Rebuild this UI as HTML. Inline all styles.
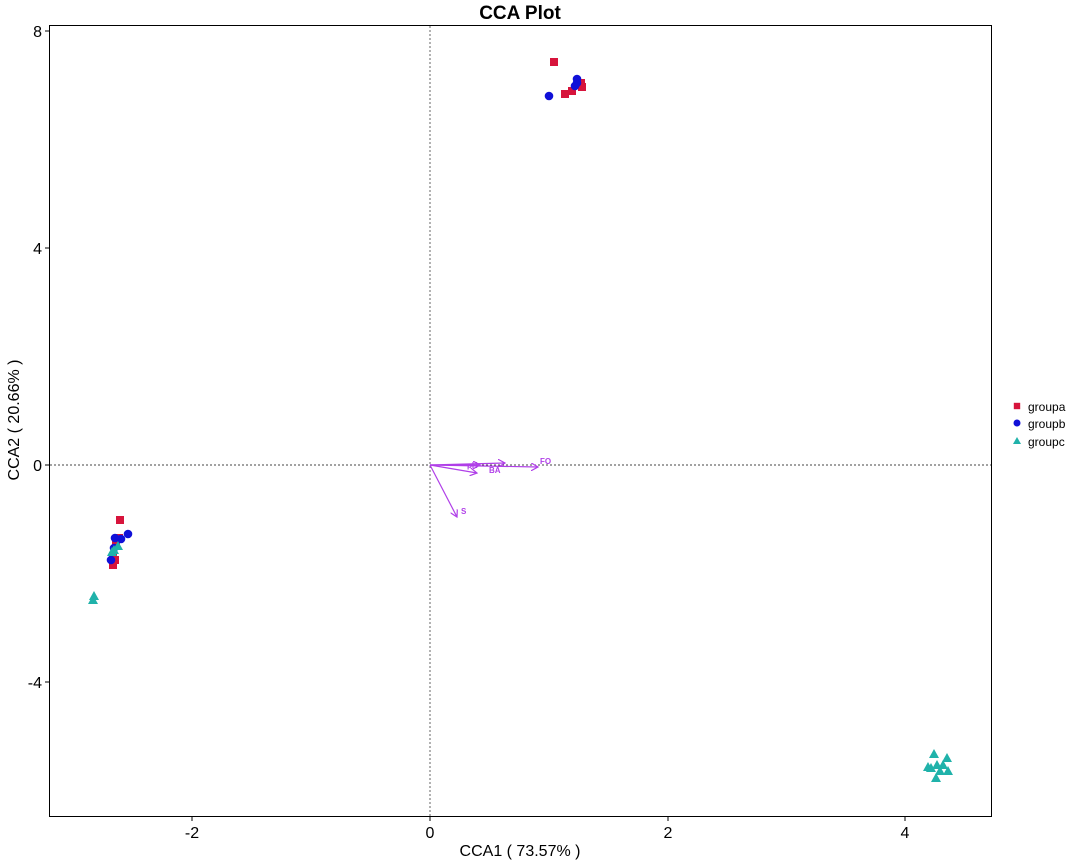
<!DOCTYPE html>
<html><head><style>body{margin:0;background:#fff}svg{display:block}text{font-family:"Liberation Sans",sans-serif}</style></head><body>
<svg width="1080" height="861" xmlns="http://www.w3.org/2000/svg">
<defs>
<marker id="ar" markerWidth="8" markerHeight="8" refX="7" refY="4" orient="auto" markerUnits="userSpaceOnUse"><path d="M0,0 L7,4 L0,8" fill="none" stroke="#B03FE8" stroke-width="1.2"/></marker>
<g id="sq"><rect x="-4" y="-4" width="8" height="8" fill="#D7143C"/></g>
<g id="ci"><circle r="4.3" fill="#1010D8"/></g>
<g id="tr"><path d="M0,-5 L5,4 L-5,4Z" fill="#20B2AA"/></g>
</defs>
<text x="520" y="19" font-size="19" font-weight="bold" text-anchor="middle">CCA Plot</text>
<rect x="49.5" y="25.5" width="942" height="791" fill="none" stroke="#000" stroke-width="1"/>
<line x1="430" y1="26" x2="430" y2="816" stroke="#666" stroke-dasharray="2,2"/>
<line x1="50" y1="465" x2="991" y2="465" stroke="#444" stroke-dasharray="2,2"/>
<g stroke="#000"><line x1="45" y1="31" x2="49" y2="31"/><line x1="45" y1="248" x2="49" y2="248"/><line x1="45" y1="465" x2="49" y2="465"/><line x1="45" y1="682" x2="49" y2="682"/>
<line x1="192" y1="817" x2="192" y2="821"/><line x1="430" y1="817" x2="430" y2="821"/><line x1="668" y1="817" x2="668" y2="821"/><line x1="905" y1="817" x2="905" y2="821"/></g>
<g font-size="16" text-anchor="end"><text x="42" y="37">8</text><text x="42" y="254">4</text><text x="42" y="471">0</text><text x="42" y="688">-4</text></g>
<g font-size="16" text-anchor="middle"><text x="192" y="838">-2</text><text x="430" y="838">0</text><text x="668" y="838">2</text><text x="905" y="838">4</text></g>
<text x="520" y="856" font-size="16" text-anchor="middle">CCA1 ( 73.57% )</text>
<text transform="translate(19,420) rotate(-90)" font-size="16" text-anchor="middle">CCA2 ( 20.66% )</text>
<g stroke="#B03FE8" stroke-width="1.2" marker-end="url(#ar)">
<line x1="430" y1="465" x2="505" y2="463"/><line x1="430" y1="465" x2="477" y2="473"/><line x1="430" y1="465" x2="538" y2="467"/><line x1="430" y1="465" x2="457" y2="517"/><line x1="430" y1="465" x2="480" y2="465"/></g>
<g fill="#B03FE8" font-size="8" font-weight="bold"><text x="467" y="468">pH</text><text x="489" y="473">BA</text><text x="540" y="464">FO</text><text x="461" y="514">S</text></g>
<use href="#sq" x="120" y="520"/><use href="#sq" x="119" y="538"/><use href="#sq" x="113" y="565"/><use href="#sq" x="115" y="560"/><use href="#sq" x="113" y="556"/><use href="#sq" x="116" y="545"/>
<use href="#ci" x="128" y="534"/><use href="#ci" x="115" y="538"/><use href="#ci" x="121" y="539"/><use href="#ci" x="111" y="560"/><use href="#ci" x="114" y="548"/>
<use href="#tr" x="118" y="546"/><use href="#tr" x="114" y="550"/><use href="#tr" x="112" y="552"/><use href="#tr" x="94" y="596"/><use href="#tr" x="93" y="600"/>
<use href="#sq" x="554" y="62"/><use href="#sq" x="565" y="94"/><use href="#sq" x="572" y="91"/><use href="#sq" x="582" y="87"/><use href="#sq" x="581" y="83"/>
<use href="#ci" x="549" y="96"/><use href="#ci" x="577" y="79"/><use href="#ci" x="577" y="83"/><use href="#ci" x="575" y="86"/>
<use href="#tr" x="934" y="754"/><use href="#tr" x="947" y="758"/><use href="#tr" x="928" y="767"/><use href="#tr" x="937" y="765"/><use href="#tr" x="943" y="765"/><use href="#tr" x="940" y="771"/><use href="#tr" x="948" y="771"/><use href="#tr" x="936" y="778"/><use href="#tr" x="931" y="768"/>
<use href="#sq" x="1017" y="406" transform="translate(1017,406) scale(0.8) translate(-1017,-406)"/>
<circle cx="1017" cy="423" r="3.5" fill="#1010D8"/>
<path d="M1017,437 L1021,444 L1013,444Z" fill="#20B2AA"/>
<g font-size="12"><text x="1028" y="411">groupa</text><text x="1028" y="428">groupb</text><text x="1028" y="446">groupc</text></g>
</svg>
</body></html>
